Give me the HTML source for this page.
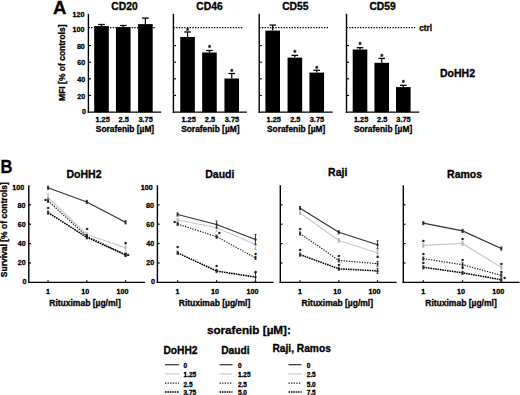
<!DOCTYPE html>
<html><head><meta charset="utf-8"><style>
html,body{margin:0;padding:0;background:#fff;}
svg{display:block;font-family:"Liberation Sans", sans-serif;}
text{stroke:#000;stroke-width:0.3px;}
</style></head><body>
<svg width="520" height="395" viewBox="0 0 520 395">
<rect width="520" height="395" fill="#fff"/>
<text x="53.00" y="14.00" font-size="18.5" text-anchor="start" font-weight="bold"  textLength="13.4" lengthAdjust="spacingAndGlyphs">A</text>
<line x1="88.40" y1="13.80" x2="88.40" y2="112.80" stroke="#000" stroke-width="1.4" />
<line x1="87.70" y1="112.10" x2="161.20" y2="112.10" stroke="#000" stroke-width="1.4" />
<text x="86.10" y="113.65" font-size="7.8" text-anchor="end" font-weight="bold"  textLength="4.00" lengthAdjust="spacingAndGlyphs">0</text>
<line x1="88.40" y1="95.47" x2="91.00" y2="95.47" stroke="#000" stroke-width="1.2" />
<text x="85.30" y="98.62" font-size="7.8" text-anchor="end" font-weight="bold"  textLength="8.01" lengthAdjust="spacingAndGlyphs">20</text>
<line x1="88.40" y1="78.83" x2="91.00" y2="78.83" stroke="#000" stroke-width="1.2" />
<text x="85.30" y="81.78" font-size="7.8" text-anchor="end" font-weight="bold"  textLength="8.01" lengthAdjust="spacingAndGlyphs">40</text>
<line x1="88.40" y1="62.20" x2="91.00" y2="62.20" stroke="#000" stroke-width="1.2" />
<text x="85.30" y="64.75" font-size="7.8" text-anchor="end" font-weight="bold"  textLength="8.01" lengthAdjust="spacingAndGlyphs">60</text>
<line x1="88.40" y1="45.56" x2="91.00" y2="45.56" stroke="#000" stroke-width="1.2" />
<text x="84.90" y="48.61" font-size="7.8" text-anchor="end" font-weight="bold"  textLength="8.01" lengthAdjust="spacingAndGlyphs">80</text>
<text x="84.50" y="31.98" font-size="7.8" text-anchor="end" font-weight="bold"  textLength="12.01" lengthAdjust="spacingAndGlyphs"><tspan font-weight="normal" style="stroke-width:0.62px">1</tspan>00</text>
<text x="84.50" y="16.60" font-size="7.8" text-anchor="end" font-weight="bold"  textLength="12.01" lengthAdjust="spacingAndGlyphs"><tspan font-weight="normal" style="stroke-width:0.62px">1</tspan>20</text>
<line x1="88.40" y1="27.60" x2="156.00" y2="27.60" stroke="#000" stroke-width="1.3" stroke-dasharray="1.4 1.3"/>
<rect x="94.20" y="26.10" width="14.60" height="86.00" fill="#000"/>
<line x1="101.50" y1="26.10" x2="101.50" y2="24.50" stroke="#000" stroke-width="1.2" />
<line x1="98.20" y1="24.50" x2="104.80" y2="24.50" stroke="#000" stroke-width="1.3" />
<text x="102.60" y="122.20" font-size="7.9" text-anchor="middle" font-weight="bold"  textLength="14.40" lengthAdjust="spacingAndGlyphs"><tspan font-weight="normal" style="stroke-width:0.62px">1</tspan>.25</text>
<rect x="115.95" y="27.10" width="14.60" height="85.00" fill="#000"/>
<line x1="123.25" y1="27.10" x2="123.25" y2="25.50" stroke="#000" stroke-width="1.2" />
<line x1="119.95" y1="25.50" x2="126.55" y2="25.50" stroke="#000" stroke-width="1.3" />
<text x="123.75" y="122.20" font-size="7.9" text-anchor="middle" font-weight="bold"  textLength="10.29" lengthAdjust="spacingAndGlyphs">2.5</text>
<rect x="138.10" y="24.10" width="14.60" height="88.00" fill="#000"/>
<line x1="145.40" y1="24.10" x2="145.40" y2="18.10" stroke="#000" stroke-width="1.2" />
<line x1="142.10" y1="18.10" x2="148.70" y2="18.10" stroke="#000" stroke-width="1.3" />
<text x="145.60" y="122.20" font-size="7.9" text-anchor="middle" font-weight="bold"  textLength="14.40" lengthAdjust="spacingAndGlyphs">3.75</text>
<text x="124.50" y="10.10" font-size="10.3" text-anchor="middle" font-weight="bold" >CD20</text>
<text x="125.00" y="131.90" font-size="8.4" text-anchor="middle" font-weight="bold" >Sorafenib [µM]</text>
<line x1="173.40" y1="13.80" x2="173.40" y2="112.80" stroke="#000" stroke-width="1.4" />
<line x1="172.70" y1="112.10" x2="246.90" y2="112.10" stroke="#000" stroke-width="1.4" />
<line x1="173.40" y1="95.47" x2="176.00" y2="95.47" stroke="#000" stroke-width="1.2" />
<line x1="173.40" y1="78.83" x2="176.00" y2="78.83" stroke="#000" stroke-width="1.2" />
<line x1="173.40" y1="62.20" x2="176.00" y2="62.20" stroke="#000" stroke-width="1.2" />
<line x1="173.40" y1="45.56" x2="176.00" y2="45.56" stroke="#000" stroke-width="1.2" />
<line x1="173.40" y1="27.60" x2="243.00" y2="27.60" stroke="#000" stroke-width="1.3" stroke-dasharray="1.4 1.3"/>
<rect x="180.25" y="37.00" width="14.60" height="75.10" fill="#000"/>
<line x1="187.55" y1="37.00" x2="187.55" y2="32.00" stroke="#000" stroke-width="1.2" />
<line x1="184.25" y1="32.00" x2="190.85" y2="32.00" stroke="#000" stroke-width="1.3" />
<text x="187.55" y="33.10" font-size="6.5" text-anchor="middle" font-weight="bold" >*</text>
<text x="188.65" y="122.20" font-size="7.9" text-anchor="middle" font-weight="bold"  textLength="14.40" lengthAdjust="spacingAndGlyphs"><tspan font-weight="normal" style="stroke-width:0.62px">1</tspan>.25</text>
<rect x="202.15" y="52.50" width="14.60" height="59.60" fill="#000"/>
<line x1="209.45" y1="52.50" x2="209.45" y2="50.50" stroke="#000" stroke-width="1.2" />
<line x1="206.15" y1="50.50" x2="212.75" y2="50.50" stroke="#000" stroke-width="1.3" />
<text x="209.45" y="49.90" font-size="6.5" text-anchor="middle" font-weight="bold" >*</text>
<text x="209.95" y="122.20" font-size="7.9" text-anchor="middle" font-weight="bold"  textLength="10.29" lengthAdjust="spacingAndGlyphs">2.5</text>
<rect x="224.45" y="78.50" width="14.60" height="33.60" fill="#000"/>
<line x1="231.75" y1="78.50" x2="231.75" y2="73.50" stroke="#000" stroke-width="1.2" />
<line x1="228.45" y1="73.50" x2="235.05" y2="73.50" stroke="#000" stroke-width="1.3" />
<text x="231.75" y="73.80" font-size="6.5" text-anchor="middle" font-weight="bold" >*</text>
<text x="231.95" y="122.20" font-size="7.9" text-anchor="middle" font-weight="bold"  textLength="14.40" lengthAdjust="spacingAndGlyphs">3.75</text>
<text x="209.50" y="10.10" font-size="10.3" text-anchor="middle" font-weight="bold" >CD46</text>
<text x="210.35" y="131.90" font-size="8.4" text-anchor="middle" font-weight="bold" >Sorafenib [µM]</text>
<line x1="259.20" y1="13.80" x2="259.20" y2="112.80" stroke="#000" stroke-width="1.4" />
<line x1="258.50" y1="112.10" x2="332.70" y2="112.10" stroke="#000" stroke-width="1.4" />
<line x1="259.20" y1="95.47" x2="261.80" y2="95.47" stroke="#000" stroke-width="1.2" />
<line x1="259.20" y1="78.83" x2="261.80" y2="78.83" stroke="#000" stroke-width="1.2" />
<line x1="259.20" y1="62.20" x2="261.80" y2="62.20" stroke="#000" stroke-width="1.2" />
<line x1="259.20" y1="45.56" x2="261.80" y2="45.56" stroke="#000" stroke-width="1.2" />
<line x1="259.20" y1="27.60" x2="328.00" y2="27.60" stroke="#000" stroke-width="1.3" stroke-dasharray="1.4 1.3"/>
<rect x="265.40" y="30.60" width="14.60" height="81.50" fill="#000"/>
<line x1="272.70" y1="30.60" x2="272.70" y2="25.10" stroke="#000" stroke-width="1.2" />
<line x1="269.40" y1="25.10" x2="276.00" y2="25.10" stroke="#000" stroke-width="1.3" />
<text x="273.80" y="122.20" font-size="7.9" text-anchor="middle" font-weight="bold"  textLength="14.40" lengthAdjust="spacingAndGlyphs"><tspan font-weight="normal" style="stroke-width:0.62px">1</tspan>.25</text>
<rect x="287.55" y="57.60" width="14.60" height="54.50" fill="#000"/>
<line x1="294.85" y1="57.60" x2="294.85" y2="55.40" stroke="#000" stroke-width="1.2" />
<line x1="291.55" y1="55.40" x2="298.15" y2="55.40" stroke="#000" stroke-width="1.3" />
<text x="294.85" y="55.40" font-size="6.5" text-anchor="middle" font-weight="bold" >*</text>
<text x="295.35" y="122.20" font-size="7.9" text-anchor="middle" font-weight="bold"  textLength="10.29" lengthAdjust="spacingAndGlyphs">2.5</text>
<rect x="309.45" y="72.60" width="14.60" height="39.50" fill="#000"/>
<line x1="316.75" y1="72.60" x2="316.75" y2="70.30" stroke="#000" stroke-width="1.2" />
<line x1="313.45" y1="70.30" x2="320.05" y2="70.30" stroke="#000" stroke-width="1.3" />
<text x="316.75" y="71.00" font-size="6.5" text-anchor="middle" font-weight="bold" >*</text>
<text x="316.95" y="122.20" font-size="7.9" text-anchor="middle" font-weight="bold"  textLength="14.40" lengthAdjust="spacingAndGlyphs">3.75</text>
<text x="295.30" y="10.10" font-size="10.3" text-anchor="middle" font-weight="bold" >CD55</text>
<text x="296.15" y="131.90" font-size="8.4" text-anchor="middle" font-weight="bold" >Sorafenib [µM]</text>
<line x1="346.50" y1="13.80" x2="346.50" y2="112.80" stroke="#000" stroke-width="1.4" />
<line x1="345.80" y1="112.10" x2="419.20" y2="112.10" stroke="#000" stroke-width="1.4" />
<line x1="346.50" y1="95.47" x2="349.10" y2="95.47" stroke="#000" stroke-width="1.2" />
<line x1="346.50" y1="78.83" x2="349.10" y2="78.83" stroke="#000" stroke-width="1.2" />
<line x1="346.50" y1="62.20" x2="349.10" y2="62.20" stroke="#000" stroke-width="1.2" />
<line x1="346.50" y1="45.56" x2="349.10" y2="45.56" stroke="#000" stroke-width="1.2" />
<line x1="346.50" y1="27.60" x2="415.00" y2="27.60" stroke="#000" stroke-width="1.3" stroke-dasharray="1.4 1.3"/>
<rect x="352.70" y="49.50" width="14.60" height="62.60" fill="#000"/>
<line x1="360.00" y1="49.50" x2="360.00" y2="47.70" stroke="#000" stroke-width="1.2" />
<line x1="356.70" y1="47.70" x2="363.30" y2="47.70" stroke="#000" stroke-width="1.3" />
<text x="360.00" y="47.40" font-size="6.5" text-anchor="middle" font-weight="bold" >*</text>
<text x="361.10" y="122.20" font-size="7.9" text-anchor="middle" font-weight="bold"  textLength="14.40" lengthAdjust="spacingAndGlyphs"><tspan font-weight="normal" style="stroke-width:0.62px">1</tspan>.25</text>
<rect x="374.45" y="62.80" width="14.60" height="49.30" fill="#000"/>
<line x1="381.75" y1="62.80" x2="381.75" y2="58.40" stroke="#000" stroke-width="1.2" />
<line x1="378.45" y1="58.40" x2="385.05" y2="58.40" stroke="#000" stroke-width="1.3" />
<text x="381.75" y="59.20" font-size="6.5" text-anchor="middle" font-weight="bold" >*</text>
<text x="382.25" y="122.20" font-size="7.9" text-anchor="middle" font-weight="bold"  textLength="10.29" lengthAdjust="spacingAndGlyphs">2.5</text>
<rect x="396.00" y="87.10" width="14.60" height="25.00" fill="#000"/>
<line x1="403.30" y1="87.10" x2="403.30" y2="85.30" stroke="#000" stroke-width="1.2" />
<line x1="400.00" y1="85.30" x2="406.60" y2="85.30" stroke="#000" stroke-width="1.3" />
<text x="403.30" y="85.00" font-size="6.5" text-anchor="middle" font-weight="bold" >*</text>
<text x="403.50" y="122.20" font-size="7.9" text-anchor="middle" font-weight="bold"  textLength="14.40" lengthAdjust="spacingAndGlyphs">3.75</text>
<text x="382.60" y="10.10" font-size="10.3" text-anchor="middle" font-weight="bold" >CD59</text>
<text x="383.05" y="131.90" font-size="8.4" text-anchor="middle" font-weight="bold" >Sorafenib [µM]</text>
<text x="419.20" y="30.50" font-size="8.2" text-anchor="start" font-weight="bold" >ctrl</text>
<text x="440.00" y="77.30" font-size="10.5" text-anchor="start" font-weight="bold" >DoHH2</text>
<text x="0.00" y="0.00" font-size="8.5" text-anchor="middle" font-weight="bold" transform="translate(64.7,62.7) rotate(-90)">MFI [% of controls]</text>
<text x="0.50" y="173.10" font-size="18" text-anchor="start" font-weight="bold"  textLength="11.9" lengthAdjust="spacingAndGlyphs">B</text>
<line x1="28.80" y1="185.20" x2="28.80" y2="283.10" stroke="#000" stroke-width="1.4" />
<line x1="28.10" y1="282.40" x2="145.10" y2="282.40" stroke="#000" stroke-width="1.4" />
<line x1="28.80" y1="263.00" x2="31.00" y2="263.00" stroke="#000" stroke-width="1.2" />
<line x1="28.80" y1="243.60" x2="31.00" y2="243.60" stroke="#000" stroke-width="1.2" />
<line x1="28.80" y1="224.20" x2="31.00" y2="224.20" stroke="#000" stroke-width="1.2" />
<line x1="28.80" y1="204.80" x2="31.00" y2="204.80" stroke="#000" stroke-width="1.2" />
<text x="26.40" y="283.60" font-size="7.8" text-anchor="end" font-weight="bold"  textLength="4.00" lengthAdjust="spacingAndGlyphs">0</text>
<text x="25.70" y="265.20" font-size="7.8" text-anchor="end" font-weight="bold"  textLength="8.01" lengthAdjust="spacingAndGlyphs">20</text>
<text x="25.70" y="246.40" font-size="7.8" text-anchor="end" font-weight="bold"  textLength="8.01" lengthAdjust="spacingAndGlyphs">40</text>
<text x="25.70" y="226.60" font-size="7.8" text-anchor="end" font-weight="bold"  textLength="8.01" lengthAdjust="spacingAndGlyphs">60</text>
<text x="25.50" y="208.20" font-size="7.8" text-anchor="end" font-weight="bold"  textLength="8.01" lengthAdjust="spacingAndGlyphs">80</text>
<text x="24.20" y="189.50" font-size="7.8" text-anchor="end" font-weight="bold"  textLength="12.01" lengthAdjust="spacingAndGlyphs"><tspan font-weight="normal" style="stroke-width:0.62px">1</tspan>00</text>
<line x1="48.05" y1="282.40" x2="48.05" y2="280.20" stroke="#000" stroke-width="1.2" />
<text x="48.05" y="293.60" font-size="7.8" text-anchor="middle" font-weight="bold"  textLength="4.00" lengthAdjust="spacingAndGlyphs"><tspan font-weight="normal" style="stroke-width:0.62px">1</tspan></text>
<line x1="86.80" y1="282.40" x2="86.80" y2="280.20" stroke="#000" stroke-width="1.2" />
<text x="85.30" y="293.60" font-size="7.8" text-anchor="middle" font-weight="bold"  textLength="8.01" lengthAdjust="spacingAndGlyphs"><tspan font-weight="normal" style="stroke-width:0.62px">1</tspan>0</text>
<line x1="125.55" y1="282.40" x2="125.55" y2="280.20" stroke="#000" stroke-width="1.2" />
<text x="122.55" y="293.60" font-size="7.8" text-anchor="middle" font-weight="bold"  textLength="12.01" lengthAdjust="spacingAndGlyphs"><tspan font-weight="normal" style="stroke-width:0.62px">1</tspan>00</text>
<text x="85.00" y="306.20" font-size="8.5" text-anchor="middle" font-weight="bold" >Rituximab [µg/ml]</text>
<text x="84.00" y="177.80" font-size="10.5" text-anchor="middle" font-weight="bold" >DoHH2</text>
<polyline points="48.05,197.50 86.80,234.50 125.55,247.70" fill="none" stroke="#c8c8c8" stroke-width="1.15"/>
<line x1="48.05" y1="194.00" x2="48.05" y2="201.00" stroke="#b0b0b0" stroke-width="0.9" />
<line x1="46.95" y1="194.00" x2="49.15" y2="194.00" stroke="#b0b0b0" stroke-width="0.8" />
<line x1="46.95" y1="201.00" x2="49.15" y2="201.00" stroke="#b0b0b0" stroke-width="0.8" />
<rect x="47.05" y="196.50" width="2.00" height="2.00" fill="#b0b0b0"/>
<line x1="86.80" y1="232.90" x2="86.80" y2="236.10" stroke="#b0b0b0" stroke-width="0.9" />
<line x1="85.70" y1="232.90" x2="87.90" y2="232.90" stroke="#b0b0b0" stroke-width="0.8" />
<line x1="85.70" y1="236.10" x2="87.90" y2="236.10" stroke="#b0b0b0" stroke-width="0.8" />
<rect x="85.80" y="233.50" width="2.00" height="2.00" fill="#b0b0b0"/>
<line x1="125.55" y1="244.50" x2="125.55" y2="250.90" stroke="#b0b0b0" stroke-width="0.9" />
<line x1="124.45" y1="244.50" x2="126.65" y2="244.50" stroke="#b0b0b0" stroke-width="0.8" />
<line x1="124.45" y1="250.90" x2="126.65" y2="250.90" stroke="#b0b0b0" stroke-width="0.8" />
<rect x="124.55" y="246.70" width="2.00" height="2.00" fill="#b0b0b0"/>
<polyline points="48.05,187.70 86.80,202.00 125.55,222.30" fill="none" stroke="#333" stroke-width="1.2"/>
<line x1="48.05" y1="186.10" x2="48.05" y2="189.30" stroke="#222" stroke-width="0.9" />
<line x1="46.95" y1="186.10" x2="49.15" y2="186.10" stroke="#222" stroke-width="0.8" />
<line x1="46.95" y1="189.30" x2="49.15" y2="189.30" stroke="#222" stroke-width="0.8" />
<rect x="47.05" y="186.70" width="2.00" height="2.00" fill="#222"/>
<line x1="86.80" y1="200.40" x2="86.80" y2="203.60" stroke="#222" stroke-width="0.9" />
<line x1="85.70" y1="200.40" x2="87.90" y2="200.40" stroke="#222" stroke-width="0.8" />
<line x1="85.70" y1="203.60" x2="87.90" y2="203.60" stroke="#222" stroke-width="0.8" />
<rect x="85.80" y="201.00" width="2.00" height="2.00" fill="#222"/>
<line x1="125.55" y1="220.70" x2="125.55" y2="223.90" stroke="#222" stroke-width="0.9" />
<line x1="124.45" y1="220.70" x2="126.65" y2="220.70" stroke="#222" stroke-width="0.8" />
<line x1="124.45" y1="223.90" x2="126.65" y2="223.90" stroke="#222" stroke-width="0.8" />
<rect x="124.55" y="221.30" width="2.00" height="2.00" fill="#222"/>
<polyline points="48.05,200.80 86.80,236.20 125.55,254.60" fill="none" stroke="#1a1a1a" stroke-width="1.2" stroke-dasharray="1.3 1.3"/>
<line x1="48.05" y1="199.20" x2="48.05" y2="202.40" stroke="#222" stroke-width="0.9" />
<line x1="46.95" y1="199.20" x2="49.15" y2="199.20" stroke="#222" stroke-width="0.8" />
<line x1="46.95" y1="202.40" x2="49.15" y2="202.40" stroke="#222" stroke-width="0.8" />
<rect x="47.05" y="199.80" width="2.00" height="2.00" fill="#222"/>
<line x1="86.80" y1="234.60" x2="86.80" y2="237.80" stroke="#222" stroke-width="0.9" />
<line x1="85.70" y1="234.60" x2="87.90" y2="234.60" stroke="#222" stroke-width="0.8" />
<line x1="85.70" y1="237.80" x2="87.90" y2="237.80" stroke="#222" stroke-width="0.8" />
<rect x="85.80" y="235.20" width="2.00" height="2.00" fill="#222"/>
<line x1="125.55" y1="253.00" x2="125.55" y2="256.20" stroke="#222" stroke-width="0.9" />
<line x1="124.45" y1="253.00" x2="126.65" y2="253.00" stroke="#222" stroke-width="0.8" />
<line x1="124.45" y1="256.20" x2="126.65" y2="256.20" stroke="#222" stroke-width="0.8" />
<rect x="124.55" y="253.60" width="2.00" height="2.00" fill="#222"/>
<polyline points="48.05,212.60 86.80,237.30 125.55,255.00" fill="none" stroke="#000" stroke-width="1.55" stroke-dasharray="1.6 0.8"/>
<line x1="48.05" y1="211.00" x2="48.05" y2="214.20" stroke="#222" stroke-width="0.9" />
<line x1="46.95" y1="211.00" x2="49.15" y2="211.00" stroke="#222" stroke-width="0.8" />
<line x1="46.95" y1="214.20" x2="49.15" y2="214.20" stroke="#222" stroke-width="0.8" />
<rect x="47.05" y="211.60" width="2.00" height="2.00" fill="#222"/>
<line x1="86.80" y1="235.70" x2="86.80" y2="238.90" stroke="#222" stroke-width="0.9" />
<line x1="85.70" y1="235.70" x2="87.90" y2="235.70" stroke="#222" stroke-width="0.8" />
<line x1="85.70" y1="238.90" x2="87.90" y2="238.90" stroke="#222" stroke-width="0.8" />
<rect x="85.80" y="236.30" width="2.00" height="2.00" fill="#222"/>
<line x1="125.55" y1="253.40" x2="125.55" y2="256.60" stroke="#222" stroke-width="0.9" />
<line x1="124.45" y1="253.40" x2="126.65" y2="253.40" stroke="#222" stroke-width="0.8" />
<line x1="124.45" y1="256.60" x2="126.65" y2="256.60" stroke="#222" stroke-width="0.8" />
<rect x="124.55" y="254.00" width="2.00" height="2.00" fill="#222"/>
<text x="45.45" y="203.20" font-size="5.5" text-anchor="middle" font-weight="bold" >*</text>
<text x="48.05" y="210.80" font-size="5.5" text-anchor="middle" font-weight="bold" >*</text>
<text x="87.10" y="231.60" font-size="5.5" text-anchor="middle" font-weight="bold" >*</text>
<text x="125.55" y="245.90" font-size="5.5" text-anchor="middle" font-weight="bold" >*</text>
<text x="128.15" y="257.90" font-size="5.5" text-anchor="middle" font-weight="bold" >*</text>
<line x1="157.40" y1="185.20" x2="157.40" y2="283.10" stroke="#000" stroke-width="1.4" />
<line x1="156.70" y1="282.40" x2="273.70" y2="282.40" stroke="#000" stroke-width="1.4" />
<line x1="157.40" y1="263.00" x2="159.60" y2="263.00" stroke="#000" stroke-width="1.2" />
<line x1="157.40" y1="243.60" x2="159.60" y2="243.60" stroke="#000" stroke-width="1.2" />
<line x1="157.40" y1="224.20" x2="159.60" y2="224.20" stroke="#000" stroke-width="1.2" />
<line x1="157.40" y1="204.80" x2="159.60" y2="204.80" stroke="#000" stroke-width="1.2" />
<text x="155.00" y="283.60" font-size="7.8" text-anchor="end" font-weight="bold"  textLength="4.00" lengthAdjust="spacingAndGlyphs">0</text>
<text x="154.30" y="265.20" font-size="7.8" text-anchor="end" font-weight="bold"  textLength="8.01" lengthAdjust="spacingAndGlyphs">20</text>
<text x="154.30" y="246.40" font-size="7.8" text-anchor="end" font-weight="bold"  textLength="8.01" lengthAdjust="spacingAndGlyphs">40</text>
<text x="154.30" y="226.60" font-size="7.8" text-anchor="end" font-weight="bold"  textLength="8.01" lengthAdjust="spacingAndGlyphs">60</text>
<text x="154.10" y="208.20" font-size="7.8" text-anchor="end" font-weight="bold"  textLength="8.01" lengthAdjust="spacingAndGlyphs">80</text>
<text x="152.80" y="189.50" font-size="7.8" text-anchor="end" font-weight="bold"  textLength="12.01" lengthAdjust="spacingAndGlyphs"><tspan font-weight="normal" style="stroke-width:0.62px">1</tspan>00</text>
<line x1="177.60" y1="282.40" x2="177.60" y2="280.20" stroke="#000" stroke-width="1.2" />
<text x="177.60" y="293.60" font-size="7.8" text-anchor="middle" font-weight="bold"  textLength="4.00" lengthAdjust="spacingAndGlyphs"><tspan font-weight="normal" style="stroke-width:0.62px">1</tspan></text>
<line x1="216.60" y1="282.40" x2="216.60" y2="280.20" stroke="#000" stroke-width="1.2" />
<text x="215.10" y="293.60" font-size="7.8" text-anchor="middle" font-weight="bold"  textLength="8.01" lengthAdjust="spacingAndGlyphs"><tspan font-weight="normal" style="stroke-width:0.62px">1</tspan>0</text>
<line x1="255.50" y1="282.40" x2="255.50" y2="280.20" stroke="#000" stroke-width="1.2" />
<text x="252.50" y="293.60" font-size="7.8" text-anchor="middle" font-weight="bold"  textLength="12.01" lengthAdjust="spacingAndGlyphs"><tspan font-weight="normal" style="stroke-width:0.62px">1</tspan>00</text>
<text x="214.50" y="306.20" font-size="8.5" text-anchor="middle" font-weight="bold" >Rituximab [µg/ml]</text>
<text x="219.80" y="177.80" font-size="10.5" text-anchor="middle" font-weight="bold" >Daudi</text>
<polyline points="177.60,220.00 216.60,227.80 255.50,244.50" fill="none" stroke="#c8c8c8" stroke-width="1.15"/>
<line x1="177.60" y1="218.40" x2="177.60" y2="221.60" stroke="#b0b0b0" stroke-width="0.9" />
<line x1="176.50" y1="218.40" x2="178.70" y2="218.40" stroke="#b0b0b0" stroke-width="0.8" />
<line x1="176.50" y1="221.60" x2="178.70" y2="221.60" stroke="#b0b0b0" stroke-width="0.8" />
<rect x="176.60" y="219.00" width="2.00" height="2.00" fill="#b0b0b0"/>
<line x1="216.60" y1="224.30" x2="216.60" y2="231.30" stroke="#b0b0b0" stroke-width="0.9" />
<line x1="215.50" y1="224.30" x2="217.70" y2="224.30" stroke="#b0b0b0" stroke-width="0.8" />
<line x1="215.50" y1="231.30" x2="217.70" y2="231.30" stroke="#b0b0b0" stroke-width="0.8" />
<rect x="215.60" y="226.80" width="2.00" height="2.00" fill="#b0b0b0"/>
<line x1="255.50" y1="239.50" x2="255.50" y2="249.50" stroke="#b0b0b0" stroke-width="0.9" />
<line x1="254.40" y1="239.50" x2="256.60" y2="239.50" stroke="#b0b0b0" stroke-width="0.8" />
<line x1="254.40" y1="249.50" x2="256.60" y2="249.50" stroke="#b0b0b0" stroke-width="0.8" />
<rect x="254.50" y="243.50" width="2.00" height="2.00" fill="#b0b0b0"/>
<polyline points="177.60,214.50 216.60,224.50 255.50,239.50" fill="none" stroke="#333" stroke-width="1.2"/>
<line x1="177.60" y1="212.90" x2="177.60" y2="216.10" stroke="#222" stroke-width="0.9" />
<line x1="176.50" y1="212.90" x2="178.70" y2="212.90" stroke="#222" stroke-width="0.8" />
<line x1="176.50" y1="216.10" x2="178.70" y2="216.10" stroke="#222" stroke-width="0.8" />
<rect x="176.60" y="213.50" width="2.00" height="2.00" fill="#222"/>
<line x1="216.60" y1="221.00" x2="216.60" y2="228.00" stroke="#222" stroke-width="0.9" />
<line x1="215.50" y1="221.00" x2="217.70" y2="221.00" stroke="#222" stroke-width="0.8" />
<line x1="215.50" y1="228.00" x2="217.70" y2="228.00" stroke="#222" stroke-width="0.8" />
<rect x="215.60" y="223.50" width="2.00" height="2.00" fill="#222"/>
<line x1="255.50" y1="234.50" x2="255.50" y2="244.50" stroke="#222" stroke-width="0.9" />
<line x1="254.40" y1="234.50" x2="256.60" y2="234.50" stroke="#222" stroke-width="0.8" />
<line x1="254.40" y1="244.50" x2="256.60" y2="244.50" stroke="#222" stroke-width="0.8" />
<rect x="254.50" y="238.50" width="2.00" height="2.00" fill="#222"/>
<polyline points="177.60,224.00 216.60,236.70 255.50,257.90" fill="none" stroke="#1a1a1a" stroke-width="1.2" stroke-dasharray="1.3 1.3"/>
<line x1="177.60" y1="222.40" x2="177.60" y2="225.60" stroke="#222" stroke-width="0.9" />
<line x1="176.50" y1="222.40" x2="178.70" y2="222.40" stroke="#222" stroke-width="0.8" />
<line x1="176.50" y1="225.60" x2="178.70" y2="225.60" stroke="#222" stroke-width="0.8" />
<rect x="176.60" y="223.00" width="2.00" height="2.00" fill="#222"/>
<line x1="216.60" y1="235.10" x2="216.60" y2="238.30" stroke="#222" stroke-width="0.9" />
<line x1="215.50" y1="235.10" x2="217.70" y2="235.10" stroke="#222" stroke-width="0.8" />
<line x1="215.50" y1="238.30" x2="217.70" y2="238.30" stroke="#222" stroke-width="0.8" />
<rect x="215.60" y="235.70" width="2.00" height="2.00" fill="#222"/>
<line x1="255.50" y1="256.30" x2="255.50" y2="259.50" stroke="#222" stroke-width="0.9" />
<line x1="254.40" y1="256.30" x2="256.60" y2="256.30" stroke="#222" stroke-width="0.8" />
<line x1="254.40" y1="259.50" x2="256.60" y2="259.50" stroke="#222" stroke-width="0.8" />
<rect x="254.50" y="256.90" width="2.00" height="2.00" fill="#222"/>
<polyline points="177.60,252.90 216.60,271.00 255.50,277.10" fill="none" stroke="#000" stroke-width="1.55" stroke-dasharray="1.6 0.8"/>
<line x1="177.60" y1="251.30" x2="177.60" y2="254.50" stroke="#222" stroke-width="0.9" />
<line x1="176.50" y1="251.30" x2="178.70" y2="251.30" stroke="#222" stroke-width="0.8" />
<line x1="176.50" y1="254.50" x2="178.70" y2="254.50" stroke="#222" stroke-width="0.8" />
<rect x="176.60" y="251.90" width="2.00" height="2.00" fill="#222"/>
<line x1="216.60" y1="269.40" x2="216.60" y2="272.60" stroke="#222" stroke-width="0.9" />
<line x1="215.50" y1="269.40" x2="217.70" y2="269.40" stroke="#222" stroke-width="0.8" />
<line x1="215.50" y1="272.60" x2="217.70" y2="272.60" stroke="#222" stroke-width="0.8" />
<rect x="215.60" y="270.00" width="2.00" height="2.00" fill="#222"/>
<line x1="255.50" y1="272.60" x2="255.50" y2="281.60" stroke="#222" stroke-width="0.9" />
<line x1="254.40" y1="272.60" x2="256.60" y2="272.60" stroke="#222" stroke-width="0.8" />
<line x1="254.40" y1="281.60" x2="256.60" y2="281.60" stroke="#222" stroke-width="0.8" />
<rect x="254.50" y="276.10" width="2.00" height="2.00" fill="#222"/>
<text x="174.60" y="225.40" font-size="5.5" text-anchor="middle" font-weight="bold" >*</text>
<text x="177.60" y="250.10" font-size="5.5" text-anchor="middle" font-weight="bold" >*</text>
<text x="219.30" y="236.20" font-size="5.5" text-anchor="middle" font-weight="bold" >*</text>
<text x="216.60" y="268.50" font-size="5.5" text-anchor="middle" font-weight="bold" >*</text>
<text x="255.50" y="257.00" font-size="5.5" text-anchor="middle" font-weight="bold" >*</text>
<text x="255.50" y="274.50" font-size="5.5" text-anchor="middle" font-weight="bold" >*</text>
<line x1="280.30" y1="185.20" x2="280.30" y2="283.10" stroke="#000" stroke-width="1.4" />
<line x1="279.60" y1="282.40" x2="396.60" y2="282.40" stroke="#000" stroke-width="1.4" />
<line x1="280.30" y1="263.00" x2="282.50" y2="263.00" stroke="#000" stroke-width="1.2" />
<line x1="280.30" y1="243.60" x2="282.50" y2="243.60" stroke="#000" stroke-width="1.2" />
<line x1="280.30" y1="224.20" x2="282.50" y2="224.20" stroke="#000" stroke-width="1.2" />
<line x1="280.30" y1="204.80" x2="282.50" y2="204.80" stroke="#000" stroke-width="1.2" />
<line x1="300.05" y1="282.40" x2="300.05" y2="280.20" stroke="#000" stroke-width="1.2" />
<text x="300.05" y="293.60" font-size="7.8" text-anchor="middle" font-weight="bold"  textLength="4.00" lengthAdjust="spacingAndGlyphs"><tspan font-weight="normal" style="stroke-width:0.62px">1</tspan></text>
<line x1="338.80" y1="282.40" x2="338.80" y2="280.20" stroke="#000" stroke-width="1.2" />
<text x="337.30" y="293.60" font-size="7.8" text-anchor="middle" font-weight="bold"  textLength="8.01" lengthAdjust="spacingAndGlyphs"><tspan font-weight="normal" style="stroke-width:0.62px">1</tspan>0</text>
<line x1="377.55" y1="282.40" x2="377.55" y2="280.20" stroke="#000" stroke-width="1.2" />
<text x="374.55" y="293.60" font-size="7.8" text-anchor="middle" font-weight="bold"  textLength="12.01" lengthAdjust="spacingAndGlyphs"><tspan font-weight="normal" style="stroke-width:0.62px">1</tspan>00</text>
<text x="337.30" y="306.20" font-size="8.5" text-anchor="middle" font-weight="bold" >Rituximab [µg/ml]</text>
<text x="337.70" y="175.80" font-size="10.5" text-anchor="middle" font-weight="bold" >Raji</text>
<polyline points="300.05,213.00 338.80,240.50 377.55,253.00" fill="none" stroke="#c8c8c8" stroke-width="1.15"/>
<line x1="300.05" y1="211.40" x2="300.05" y2="214.60" stroke="#b0b0b0" stroke-width="0.9" />
<line x1="298.95" y1="211.40" x2="301.15" y2="211.40" stroke="#b0b0b0" stroke-width="0.8" />
<line x1="298.95" y1="214.60" x2="301.15" y2="214.60" stroke="#b0b0b0" stroke-width="0.8" />
<rect x="299.05" y="212.00" width="2.00" height="2.00" fill="#b0b0b0"/>
<line x1="338.80" y1="238.70" x2="338.80" y2="242.30" stroke="#b0b0b0" stroke-width="0.9" />
<line x1="337.70" y1="238.70" x2="339.90" y2="238.70" stroke="#b0b0b0" stroke-width="0.8" />
<line x1="337.70" y1="242.30" x2="339.90" y2="242.30" stroke="#b0b0b0" stroke-width="0.8" />
<rect x="337.80" y="239.50" width="2.00" height="2.00" fill="#b0b0b0"/>
<line x1="377.55" y1="250.50" x2="377.55" y2="255.50" stroke="#b0b0b0" stroke-width="0.9" />
<line x1="376.45" y1="250.50" x2="378.65" y2="250.50" stroke="#b0b0b0" stroke-width="0.8" />
<line x1="376.45" y1="255.50" x2="378.65" y2="255.50" stroke="#b0b0b0" stroke-width="0.8" />
<rect x="376.55" y="252.00" width="2.00" height="2.00" fill="#b0b0b0"/>
<polyline points="300.05,208.20 338.80,232.30 377.55,244.80" fill="none" stroke="#333" stroke-width="1.2"/>
<line x1="300.05" y1="206.60" x2="300.05" y2="209.80" stroke="#222" stroke-width="0.9" />
<line x1="298.95" y1="206.60" x2="301.15" y2="206.60" stroke="#222" stroke-width="0.8" />
<line x1="298.95" y1="209.80" x2="301.15" y2="209.80" stroke="#222" stroke-width="0.8" />
<rect x="299.05" y="207.20" width="2.00" height="2.00" fill="#222"/>
<line x1="338.80" y1="230.70" x2="338.80" y2="233.90" stroke="#222" stroke-width="0.9" />
<line x1="337.70" y1="230.70" x2="339.90" y2="230.70" stroke="#222" stroke-width="0.8" />
<line x1="337.70" y1="233.90" x2="339.90" y2="233.90" stroke="#222" stroke-width="0.8" />
<rect x="337.80" y="231.30" width="2.00" height="2.00" fill="#222"/>
<line x1="377.55" y1="240.80" x2="377.55" y2="248.80" stroke="#222" stroke-width="0.9" />
<line x1="376.45" y1="240.80" x2="378.65" y2="240.80" stroke="#222" stroke-width="0.8" />
<line x1="376.45" y1="248.80" x2="378.65" y2="248.80" stroke="#222" stroke-width="0.8" />
<rect x="376.55" y="243.80" width="2.00" height="2.00" fill="#222"/>
<polyline points="300.05,233.50 338.80,260.40 377.55,263.70" fill="none" stroke="#1a1a1a" stroke-width="1.2" stroke-dasharray="1.3 1.3"/>
<line x1="300.05" y1="231.90" x2="300.05" y2="235.10" stroke="#222" stroke-width="0.9" />
<line x1="298.95" y1="231.90" x2="301.15" y2="231.90" stroke="#222" stroke-width="0.8" />
<line x1="298.95" y1="235.10" x2="301.15" y2="235.10" stroke="#222" stroke-width="0.8" />
<rect x="299.05" y="232.50" width="2.00" height="2.00" fill="#222"/>
<line x1="338.80" y1="258.80" x2="338.80" y2="262.00" stroke="#222" stroke-width="0.9" />
<line x1="337.70" y1="258.80" x2="339.90" y2="258.80" stroke="#222" stroke-width="0.8" />
<line x1="337.70" y1="262.00" x2="339.90" y2="262.00" stroke="#222" stroke-width="0.8" />
<rect x="337.80" y="259.40" width="2.00" height="2.00" fill="#222"/>
<line x1="377.55" y1="261.20" x2="377.55" y2="266.20" stroke="#222" stroke-width="0.9" />
<line x1="376.45" y1="261.20" x2="378.65" y2="261.20" stroke="#222" stroke-width="0.8" />
<line x1="376.45" y1="266.20" x2="378.65" y2="266.20" stroke="#222" stroke-width="0.8" />
<rect x="376.55" y="262.70" width="2.00" height="2.00" fill="#222"/>
<polyline points="300.05,254.60 338.80,268.80 377.55,270.90" fill="none" stroke="#000" stroke-width="1.55" stroke-dasharray="1.6 0.8"/>
<line x1="300.05" y1="253.00" x2="300.05" y2="256.20" stroke="#222" stroke-width="0.9" />
<line x1="298.95" y1="253.00" x2="301.15" y2="253.00" stroke="#222" stroke-width="0.8" />
<line x1="298.95" y1="256.20" x2="301.15" y2="256.20" stroke="#222" stroke-width="0.8" />
<rect x="299.05" y="253.60" width="2.00" height="2.00" fill="#222"/>
<line x1="338.80" y1="267.20" x2="338.80" y2="270.40" stroke="#222" stroke-width="0.9" />
<line x1="337.70" y1="267.20" x2="339.90" y2="267.20" stroke="#222" stroke-width="0.8" />
<line x1="337.70" y1="270.40" x2="339.90" y2="270.40" stroke="#222" stroke-width="0.8" />
<rect x="337.80" y="267.80" width="2.00" height="2.00" fill="#222"/>
<line x1="377.55" y1="268.40" x2="377.55" y2="273.40" stroke="#222" stroke-width="0.9" />
<line x1="376.45" y1="268.40" x2="378.65" y2="268.40" stroke="#222" stroke-width="0.8" />
<line x1="376.45" y1="273.40" x2="378.65" y2="273.40" stroke="#222" stroke-width="0.8" />
<rect x="376.55" y="269.90" width="2.00" height="2.00" fill="#222"/>
<text x="300.05" y="231.80" font-size="5.5" text-anchor="middle" font-weight="bold" >*</text>
<text x="300.05" y="253.30" font-size="5.5" text-anchor="middle" font-weight="bold" >*</text>
<text x="338.80" y="259.40" font-size="5.5" text-anchor="middle" font-weight="bold" >*</text>
<text x="338.80" y="267.90" font-size="5.5" text-anchor="middle" font-weight="bold" >*</text>
<text x="377.55" y="259.90" font-size="5.5" text-anchor="middle" font-weight="bold" >*</text>
<line x1="403.30" y1="185.20" x2="403.30" y2="283.10" stroke="#000" stroke-width="1.4" />
<line x1="402.60" y1="282.40" x2="519.60" y2="282.40" stroke="#000" stroke-width="1.4" />
<line x1="403.30" y1="263.00" x2="405.50" y2="263.00" stroke="#000" stroke-width="1.2" />
<line x1="403.30" y1="243.60" x2="405.50" y2="243.60" stroke="#000" stroke-width="1.2" />
<line x1="403.30" y1="224.20" x2="405.50" y2="224.20" stroke="#000" stroke-width="1.2" />
<line x1="403.30" y1="204.80" x2="405.50" y2="204.80" stroke="#000" stroke-width="1.2" />
<line x1="423.30" y1="282.40" x2="423.30" y2="280.20" stroke="#000" stroke-width="1.2" />
<text x="423.30" y="293.60" font-size="7.8" text-anchor="middle" font-weight="bold"  textLength="4.00" lengthAdjust="spacingAndGlyphs"><tspan font-weight="normal" style="stroke-width:0.62px">1</tspan></text>
<line x1="462.55" y1="282.40" x2="462.55" y2="280.20" stroke="#000" stroke-width="1.2" />
<text x="461.05" y="293.60" font-size="7.8" text-anchor="middle" font-weight="bold"  textLength="8.01" lengthAdjust="spacingAndGlyphs"><tspan font-weight="normal" style="stroke-width:0.62px">1</tspan>0</text>
<line x1="501.30" y1="282.40" x2="501.30" y2="280.20" stroke="#000" stroke-width="1.2" />
<text x="498.30" y="293.60" font-size="7.8" text-anchor="middle" font-weight="bold"  textLength="12.01" lengthAdjust="spacingAndGlyphs"><tspan font-weight="normal" style="stroke-width:0.62px">1</tspan>00</text>
<text x="461.00" y="306.20" font-size="8.5" text-anchor="middle" font-weight="bold" >Rituximab [µg/ml]</text>
<text x="464.60" y="177.80" font-size="10.5" text-anchor="middle" font-weight="bold" >Ramos</text>
<polyline points="423.30,245.40 462.55,243.40 501.30,267.50" fill="none" stroke="#c8c8c8" stroke-width="1.15"/>
<line x1="423.30" y1="243.40" x2="423.30" y2="247.40" stroke="#b0b0b0" stroke-width="0.9" />
<line x1="422.20" y1="243.40" x2="424.40" y2="243.40" stroke="#b0b0b0" stroke-width="0.8" />
<line x1="422.20" y1="247.40" x2="424.40" y2="247.40" stroke="#b0b0b0" stroke-width="0.8" />
<rect x="422.30" y="244.40" width="2.00" height="2.00" fill="#b0b0b0"/>
<line x1="462.55" y1="241.40" x2="462.55" y2="245.40" stroke="#b0b0b0" stroke-width="0.9" />
<line x1="461.45" y1="241.40" x2="463.65" y2="241.40" stroke="#b0b0b0" stroke-width="0.8" />
<line x1="461.45" y1="245.40" x2="463.65" y2="245.40" stroke="#b0b0b0" stroke-width="0.8" />
<rect x="461.55" y="242.40" width="2.00" height="2.00" fill="#b0b0b0"/>
<line x1="501.30" y1="265.90" x2="501.30" y2="269.10" stroke="#b0b0b0" stroke-width="0.9" />
<line x1="500.20" y1="265.90" x2="502.40" y2="265.90" stroke="#b0b0b0" stroke-width="0.8" />
<line x1="500.20" y1="269.10" x2="502.40" y2="269.10" stroke="#b0b0b0" stroke-width="0.8" />
<rect x="500.30" y="266.50" width="2.00" height="2.00" fill="#b0b0b0"/>
<polyline points="423.30,223.20 462.55,230.90 501.30,248.50" fill="none" stroke="#333" stroke-width="1.2"/>
<line x1="423.30" y1="221.60" x2="423.30" y2="224.80" stroke="#222" stroke-width="0.9" />
<line x1="422.20" y1="221.60" x2="424.40" y2="221.60" stroke="#222" stroke-width="0.8" />
<line x1="422.20" y1="224.80" x2="424.40" y2="224.80" stroke="#222" stroke-width="0.8" />
<rect x="422.30" y="222.20" width="2.00" height="2.00" fill="#222"/>
<line x1="462.55" y1="229.30" x2="462.55" y2="232.50" stroke="#222" stroke-width="0.9" />
<line x1="461.45" y1="229.30" x2="463.65" y2="229.30" stroke="#222" stroke-width="0.8" />
<line x1="461.45" y1="232.50" x2="463.65" y2="232.50" stroke="#222" stroke-width="0.8" />
<rect x="461.55" y="229.90" width="2.00" height="2.00" fill="#222"/>
<line x1="501.30" y1="246.90" x2="501.30" y2="250.10" stroke="#222" stroke-width="0.9" />
<line x1="500.20" y1="246.90" x2="502.40" y2="246.90" stroke="#222" stroke-width="0.8" />
<line x1="500.20" y1="250.10" x2="502.40" y2="250.10" stroke="#222" stroke-width="0.8" />
<rect x="500.30" y="247.50" width="2.00" height="2.00" fill="#222"/>
<polyline points="423.30,258.60 462.55,264.70 501.30,275.40" fill="none" stroke="#1a1a1a" stroke-width="1.2" stroke-dasharray="1.3 1.3"/>
<line x1="423.30" y1="257.00" x2="423.30" y2="260.20" stroke="#222" stroke-width="0.9" />
<line x1="422.20" y1="257.00" x2="424.40" y2="257.00" stroke="#222" stroke-width="0.8" />
<line x1="422.20" y1="260.20" x2="424.40" y2="260.20" stroke="#222" stroke-width="0.8" />
<rect x="422.30" y="257.60" width="2.00" height="2.00" fill="#222"/>
<line x1="462.55" y1="262.70" x2="462.55" y2="266.70" stroke="#222" stroke-width="0.9" />
<line x1="461.45" y1="262.70" x2="463.65" y2="262.70" stroke="#222" stroke-width="0.8" />
<line x1="461.45" y1="266.70" x2="463.65" y2="266.70" stroke="#222" stroke-width="0.8" />
<rect x="461.55" y="263.70" width="2.00" height="2.00" fill="#222"/>
<line x1="501.30" y1="273.80" x2="501.30" y2="277.00" stroke="#222" stroke-width="0.9" />
<line x1="500.20" y1="273.80" x2="502.40" y2="273.80" stroke="#222" stroke-width="0.8" />
<line x1="500.20" y1="277.00" x2="502.40" y2="277.00" stroke="#222" stroke-width="0.8" />
<rect x="500.30" y="274.40" width="2.00" height="2.00" fill="#222"/>
<polyline points="423.30,267.30 462.55,272.80 501.30,279.80" fill="none" stroke="#000" stroke-width="1.55" stroke-dasharray="1.6 0.8"/>
<line x1="423.30" y1="265.70" x2="423.30" y2="268.90" stroke="#222" stroke-width="0.9" />
<line x1="422.20" y1="265.70" x2="424.40" y2="265.70" stroke="#222" stroke-width="0.8" />
<line x1="422.20" y1="268.90" x2="424.40" y2="268.90" stroke="#222" stroke-width="0.8" />
<rect x="422.30" y="266.30" width="2.00" height="2.00" fill="#222"/>
<line x1="462.55" y1="271.20" x2="462.55" y2="274.40" stroke="#222" stroke-width="0.9" />
<line x1="461.45" y1="271.20" x2="463.65" y2="271.20" stroke="#222" stroke-width="0.8" />
<line x1="461.45" y1="274.40" x2="463.65" y2="274.40" stroke="#222" stroke-width="0.8" />
<rect x="461.55" y="271.80" width="2.00" height="2.00" fill="#222"/>
<line x1="501.30" y1="278.20" x2="501.30" y2="281.40" stroke="#222" stroke-width="0.9" />
<line x1="500.20" y1="278.20" x2="502.40" y2="278.20" stroke="#222" stroke-width="0.8" />
<line x1="500.20" y1="281.40" x2="502.40" y2="281.40" stroke="#222" stroke-width="0.8" />
<rect x="500.30" y="278.80" width="2.00" height="2.00" fill="#222"/>
<text x="423.30" y="244.30" font-size="5.5" text-anchor="middle" font-weight="bold" >*</text>
<text x="423.30" y="257.20" font-size="5.5" text-anchor="middle" font-weight="bold" >*</text>
<text x="423.30" y="266.10" font-size="5.5" text-anchor="middle" font-weight="bold" >*</text>
<text x="462.55" y="242.20" font-size="5.5" text-anchor="middle" font-weight="bold" >*</text>
<text x="462.55" y="263.40" font-size="5.5" text-anchor="middle" font-weight="bold" >*</text>
<text x="462.55" y="271.40" font-size="5.5" text-anchor="middle" font-weight="bold" >*</text>
<text x="501.30" y="267.40" font-size="5.5" text-anchor="middle" font-weight="bold" >*</text>
<text x="501.30" y="275.30" font-size="5.5" text-anchor="middle" font-weight="bold" >*</text>
<text x="504.50" y="281.30" font-size="5.5" text-anchor="middle" font-weight="bold" >*</text>
<text x="0.00" y="0.00" font-size="8.5" text-anchor="middle" font-weight="bold" transform="translate(7.0,229.7) rotate(-90)">Survival [% of controls]</text>
<text x="206.90" y="333.50" font-size="11.7" text-anchor="start" font-weight="bold" >sorafenib [µM]:</text>
<text x="163.50" y="354.20" font-size="10.2" text-anchor="start" font-weight="bold" >DoHH2</text>
<line x1="165.00" y1="364.70" x2="179.00" y2="364.70" stroke="#333" stroke-width="1.2"/>
<text x="183.50" y="368.10" font-size="6.5" text-anchor="start" font-weight="bold" >0</text>
<line x1="165.00" y1="373.90" x2="179.00" y2="373.90" stroke="#c8c8c8" stroke-width="1.15"/>
<text x="183.50" y="377.30" font-size="6.5" text-anchor="start" font-weight="bold" ><tspan font-weight="normal" style="stroke-width:0.62px">1</tspan>.25</text>
<line x1="165.00" y1="383.10" x2="179.00" y2="383.10" stroke="#1a1a1a" stroke-width="1.2" stroke-dasharray="1.3 1.3"/>
<text x="183.50" y="386.50" font-size="6.5" text-anchor="start" font-weight="bold" >2.5</text>
<line x1="165.00" y1="391.90" x2="179.00" y2="391.90" stroke="#000" stroke-width="1.55" stroke-dasharray="1.6 0.8"/>
<text x="183.50" y="395.30" font-size="6.5" text-anchor="start" font-weight="bold" >3.75</text>
<text x="221.20" y="354.20" font-size="10.2" text-anchor="start" font-weight="bold" >Daudi</text>
<line x1="219.50" y1="364.70" x2="232.50" y2="364.70" stroke="#333" stroke-width="1.2"/>
<text x="237.90" y="368.10" font-size="6.5" text-anchor="start" font-weight="bold" >0</text>
<line x1="219.50" y1="373.90" x2="232.50" y2="373.90" stroke="#c8c8c8" stroke-width="1.15"/>
<text x="237.90" y="377.30" font-size="6.5" text-anchor="start" font-weight="bold" ><tspan font-weight="normal" style="stroke-width:0.62px">1</tspan>.25</text>
<line x1="219.50" y1="383.10" x2="232.50" y2="383.10" stroke="#1a1a1a" stroke-width="1.2" stroke-dasharray="1.3 1.3"/>
<text x="237.90" y="386.50" font-size="6.5" text-anchor="start" font-weight="bold" >2.5</text>
<line x1="219.50" y1="391.90" x2="232.50" y2="391.90" stroke="#000" stroke-width="1.55" stroke-dasharray="1.6 0.8"/>
<text x="237.90" y="395.30" font-size="6.5" text-anchor="start" font-weight="bold" >5.0</text>
<text x="272.50" y="351.60" font-size="10.2" text-anchor="start" font-weight="bold" >Raji, Ramos</text>
<line x1="288.50" y1="364.70" x2="301.50" y2="364.70" stroke="#333" stroke-width="1.2"/>
<text x="306.70" y="368.10" font-size="6.5" text-anchor="start" font-weight="bold" >0</text>
<line x1="288.50" y1="373.90" x2="301.50" y2="373.90" stroke="#c8c8c8" stroke-width="1.15"/>
<text x="306.70" y="377.30" font-size="6.5" text-anchor="start" font-weight="bold" >2.5</text>
<line x1="288.50" y1="383.10" x2="301.50" y2="383.10" stroke="#1a1a1a" stroke-width="1.2" stroke-dasharray="1.3 1.3"/>
<text x="306.70" y="386.50" font-size="6.5" text-anchor="start" font-weight="bold" >5.0</text>
<line x1="288.50" y1="391.90" x2="301.50" y2="391.90" stroke="#000" stroke-width="1.55" stroke-dasharray="1.6 0.8"/>
<text x="306.70" y="395.30" font-size="6.5" text-anchor="start" font-weight="bold" >7.5</text>
</svg>
</body></html>
